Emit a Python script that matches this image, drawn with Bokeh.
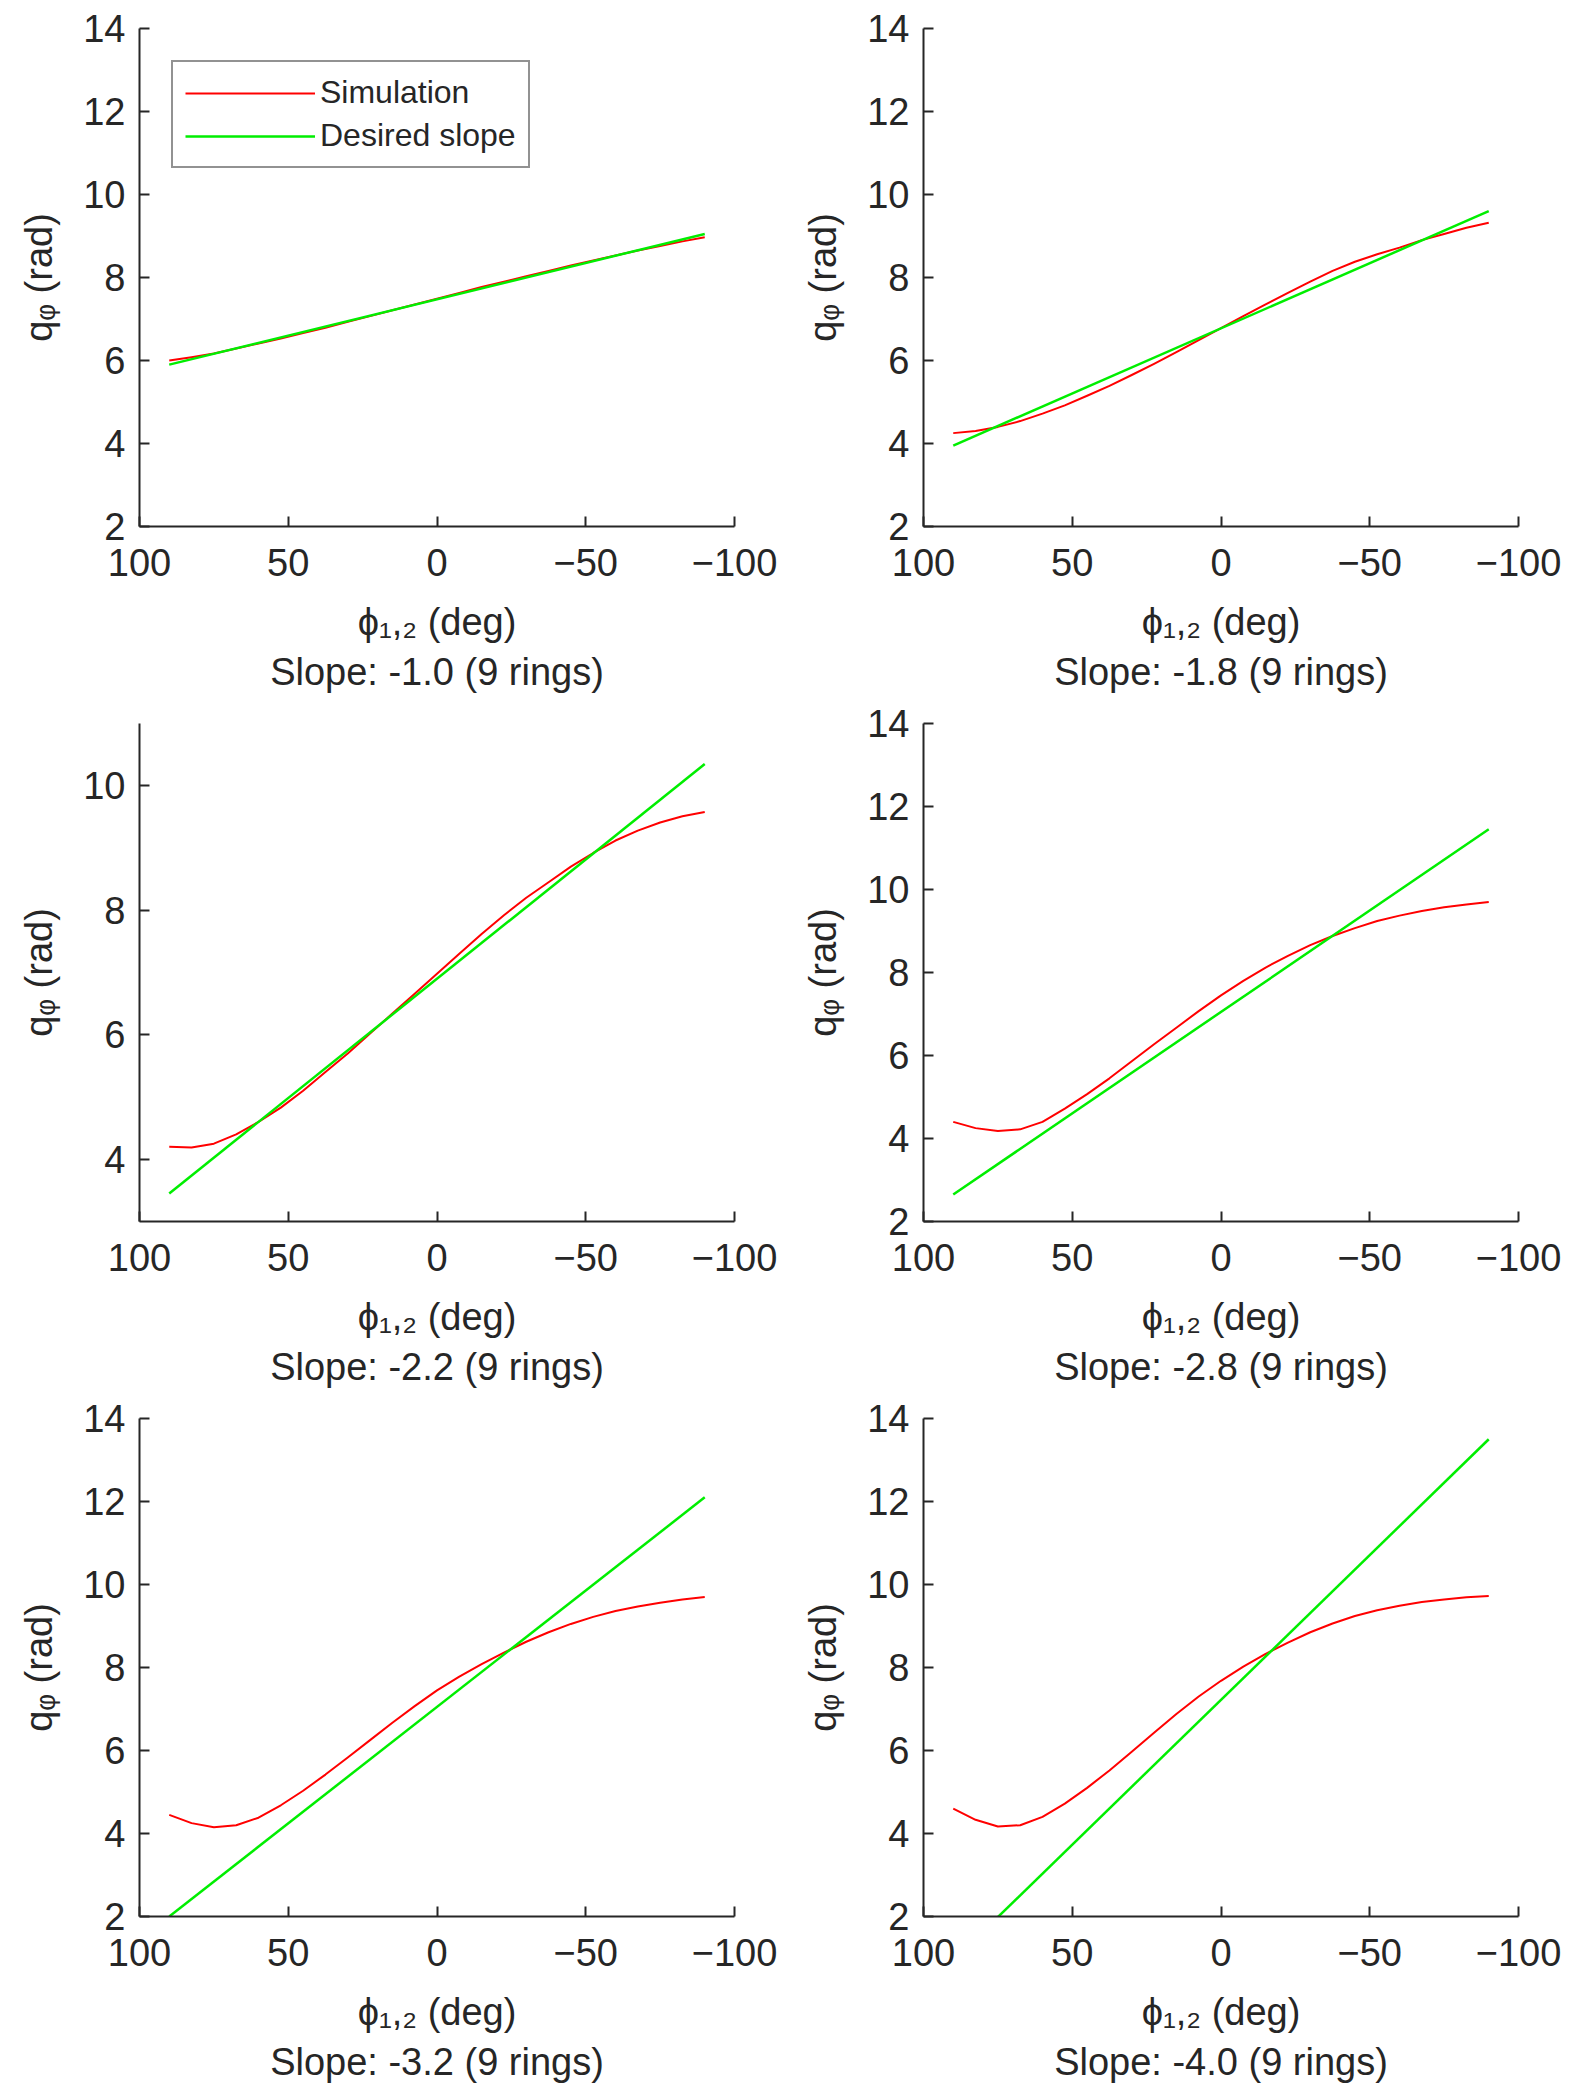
from bokeh.plotting import figure
from bokeh.layouts import gridplot
from bokeh.models import Range1d, FixedTicker, Title, Legend, LegendItem
from bokeh.embed import file_html
from bokeh.resources import INLINE

phi = [90, 82.5, 75, 67.5, 60, 52.5, 45, 37.5, 30, 22.5, 15, 7.5, 0,
       -7.5, -15, -22.5, -30, -37.5, -45, -52.5, -60, -67.5, -75, -82.5, -90]
slopes = ["-1.0", "-1.8", "-2.2", "-2.8", "-3.2", "-4.0"]
sim = [
    [6.0, 6.08, 6.17, 6.29, 6.41, 6.53, 6.66, 6.79, 6.93, 7.07, 7.21, 7.35, 7.49,
     7.63, 7.77, 7.90, 8.03, 8.16, 8.29, 8.41, 8.53, 8.65, 8.76, 8.87, 8.97],
    [4.25, 4.3, 4.4, 4.54, 4.72, 4.92, 5.15, 5.39, 5.65, 5.92, 6.2, 6.49, 6.78,
     7.07, 7.35, 7.63, 7.9, 8.16, 8.38, 8.56, 8.72, 8.9, 9.05, 9.2, 9.32],
    [4.2, 4.19, 4.25, 4.4, 4.6, 4.83, 5.1, 5.4, 5.7, 6.02, 6.34, 6.66, 6.98,
     7.3, 7.62, 7.92, 8.2, 8.45, 8.7, 8.92, 9.12, 9.28, 9.41, 9.51, 9.58],
    [4.4, 4.25, 4.18, 4.22, 4.4, 4.72, 5.07, 5.45, 5.86, 6.27, 6.67, 7.07, 7.45,
     7.8, 8.12, 8.4, 8.66, 8.88, 9.07, 9.24, 9.37, 9.48, 9.57, 9.64, 9.7],
    [4.45, 4.25, 4.15, 4.2, 4.38, 4.68, 5.03, 5.42, 5.83, 6.25, 6.67, 7.07, 7.45,
     7.78, 8.08, 8.36, 8.62, 8.85, 9.05, 9.22, 9.36, 9.47, 9.56, 9.64, 9.7],
    [4.6, 4.33, 4.17, 4.2, 4.4, 4.72, 5.1, 5.52, 5.97, 6.43, 6.88, 7.3, 7.68,
     8.02, 8.33, 8.6, 8.85, 9.06, 9.24, 9.38, 9.49, 9.58, 9.64, 9.69, 9.72],
]
desired_x = [90, -90]
desired = [
    [5.9, 9.05],
    [3.95, 9.6],
    [3.45, 10.35],
    [2.65, 11.45],
    [2.0, 12.1],
    [0.94, 13.5],
]
y_ranges = [(2, 14), (2, 14), (3, 11), (2, 14), (2, 14), (2, 14)]
y_ticks = [[2, 4, 6, 8, 10, 12, 14]] * 2 + [[4, 6, 8, 10]] + [[2, 4, 6, 8, 10, 12, 14]] * 3
x_ticks = [100, 50, 0, -50, -100]

FONT = "Liberation Sans"
figs = []
for i in range(6):
    p = figure(width=784, height=695, output_backend="svg", toolbar_location=None,
               x_range=Range1d(100, -100), y_range=Range1d(*y_ranges[i]),
               min_border_left=139, min_border_right=50, min_border_top=28, min_border_bottom=10)
    p.outline_line_color = None
    p.grid.visible = False
    p.background_fill_color = "white"
    r1 = p.line(phi, sim[i], line_color="#ff0000", line_width=2, line_join="round")
    r2 = p.line(desired_x, desired[i], line_color="#00ee00", line_width=2.5)
    p.xaxis.ticker = FixedTicker(ticks=x_ticks)
    p.yaxis.ticker = FixedTicker(ticks=y_ticks[i])
    for ax in (p.xaxis, p.yaxis):
        ax.major_tick_in = 10
        ax.major_tick_out = 0
        ax.minor_tick_line_color = None
        ax.axis_line_color = "#262626"
        ax.axis_line_width = 2
        ax.major_tick_line_color = "#262626"
        ax.major_tick_line_width = 2
        ax.major_label_text_font = FONT
        ax.major_label_text_font_size = "38px"
        ax.major_label_text_color = "#262626"
        ax.axis_label_text_font = FONT
        ax.axis_label_text_font_size = "38px"
        ax.axis_label_text_font_style = "normal"
        ax.axis_label_text_color = "#262626"
    p.xaxis.axis_label = "ϕ₁,₂ (deg)"
    p.yaxis.axis_label = "qᵩ (rad)"
    p.xaxis.major_label_standoff = 22
    p.xaxis.axis_label_standoff = 22
    p.yaxis.major_label_standoff = 14
    p.yaxis.axis_label_standoff = 20
    p.yaxis.major_label_orientation = "horizontal"
    t = Title(text=f"Slope: {slopes[i]} (9 rings)", align="center",
              text_font=FONT, text_font_size="38px", text_font_style="normal",
              text_color="#262626", standoff=6)
    p.add_layout(t, "below")
    if i == 0:
        leg = Legend(items=[LegendItem(label="Simulation", renderers=[r1]),
                            LegendItem(label="Desired slope", renderers=[r2])],
                     location="top_left", margin=32, glyph_width=130,
                     label_text_font=FONT, label_text_font_size="32px",
                     label_text_color="#262626", border_line_color="#262626",
                     border_line_width=2, spacing=6, padding=12)
        p.add_layout(leg)
    figs.append(p)

grid = gridplot([[figs[0], figs[1]], [figs[2], figs[3]], [figs[4], figs[5]]],
                toolbar_location=None)
open("out.html", "w").write(file_html(grid, INLINE))
